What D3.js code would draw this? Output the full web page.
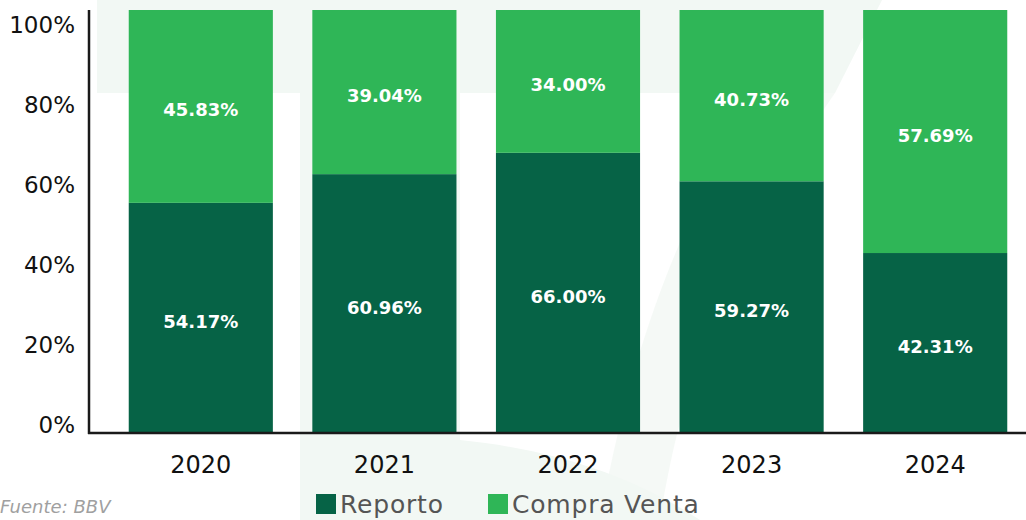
<!DOCTYPE html>
<html>
<head>
<meta charset="utf-8">
<script src="https://cdn.jsdelivr.net/npm/d3@7"></script>
<style>
  html, body { margin: 0; padding: 0; background: #ffffff; }
  svg { display: block; }
</style>
</head>
<body>
<svg id="chart" width="1026" height="520"></svg>
<script>
// ---- data ----
const years = ["2020", "2021", "2022", "2023", "2024"];
const reporto = [54.17, 60.96, 66.00, 59.27, 42.31];
const compraVenta = [45.83, 39.04, 34.00, 40.73, 57.69];
const seriesNames = ["Reporto", "Compra Venta"];
const yTicks = [0, 20, 40, 60, 80, 100];
const source = "Fuente: BBV";

// ---- setup ----
const W = 1026, H = 520;
const colors = { "Reporto": "#066346", "Compra Venta": "#2fb657" };
const svg = d3.select("#chart");

// faint background watermark
const wm = svg.append("g").attr("fill", "#f2f8f4");
wm.append("path").attr("d", "M97,0 L882,0 L835,93 L97,93 Z");
wm.append("path").attr("d", "M835,93 L760,93 C700,190 640,300 600,520 L660,520 C690,330 760,200 835,93 Z").attr("opacity", 0.8);
wm.append("path").attr("d", "M300,93 L460,93 L460,440 C560,450 640,480 700,520 L300,520 Z");

const x = d3.scaleBand().domain(years).range([109, 1027]).paddingInner(0.215).paddingOuter(0.1075);
const y = d3.scaleLinear().domain([0, 100]).range([432, 9]);
const yLabel = d3.scaleLinear().domain([0, 100]).range([425, 25]);

const rows = years.map((yr, i) => ({ year: yr, "Reporto": reporto[i], "Compra Venta": compraVenta[i] }));
const stack = d3.stack().keys(seriesNames)(rows);

svg.append("defs").append("clipPath").attr("id", "plotclip")
  .append("rect").attr("x", 0).attr("y", 10).attr("width", W).attr("height", 430);

const plot = svg.append("g").attr("clip-path", "url(#plotclip)");
stack.forEach(layer => {
  plot.append("g").attr("fill", colors[layer.key])
    .selectAll("rect").data(layer).join("rect")
    .attr("x", d => x(d.data.year))
    .attr("width", x.bandwidth())
    .attr("y", d => y(d[1]))
    .attr("height", d => y(d[0]) - y(d[1]));
});

// value labels
stack.forEach(layer => {
  svg.append("g").selectAll("text").data(layer).join("text")
    .attr("x", d => x(d.data.year) + x.bandwidth() / 2)
    .attr("y", d => (y(d[0]) + y(d[1])) / 2 + 10.5)
    .attr("text-anchor", "middle")
    .attr("fill", "#ffffff")
    .attr("font-family", "'DejaVu Sans', sans-serif")
    .attr("font-weight", "bold")
    .attr("font-size", 18)
    .text(d => (d[1] - d[0]).toFixed(2) + "%");
});

// y axis labels
const yAxis = d3.axisLeft(yLabel).tickValues(yTicks).tickFormat(d => d + "%").tickSize(0).tickPadding(0);
const gy = svg.append("g").attr("transform", "translate(75,0)").call(yAxis);
gy.select(".domain").remove();
gy.selectAll("text").attr("font-family", "'DejaVu Sans', sans-serif").attr("font-size", 23).attr("fill", "#111");

// axis lines
svg.append("line").attr("x1", 89).attr("x2", 89).attr("y1", 10).attr("y2", 434)
  .attr("stroke", "#1a1a1a").attr("stroke-width", 2.5);
svg.append("line").attr("x1", 88).attr("x2", W).attr("y1", 433).attr("y2", 433)
  .attr("stroke", "#1a1a1a").attr("stroke-width", 2.5);

// x axis labels
const xAxis = d3.axisBottom(x).tickSize(0).tickPadding(0);
const gx = svg.append("g").attr("transform", "translate(0,456)").call(xAxis);
gx.select(".domain").remove();
gx.selectAll("text").attr("font-family", "'DejaVu Sans', sans-serif").attr("font-size", 24)
  .attr("font-weight", 500).attr("fill", "#111");

// legend
const legendX = [316, 488];
const lg = svg.append("g").selectAll("g").data(seriesNames).join("g")
  .attr("transform", (d, i) => `translate(${legendX[i]},494)`);
lg.append("rect").attr("width", 20).attr("height", 20).attr("fill", d => colors[d]);
lg.append("text").attr("x", 24).attr("y", 19)
  .attr("font-family", "'DejaVu Sans', sans-serif").attr("font-size", 25)
  .attr("letter-spacing", 0.8).attr("fill", "#555")
  .text(d => d);

// source
svg.append("text").attr("x", 0).attr("y", 513)
  .attr("font-family", "'DejaVu Sans', sans-serif").attr("font-style", "italic")
  .attr("font-size", 18).attr("fill", "#a0a0a0").text(source);
</script>
</body>
</html>
